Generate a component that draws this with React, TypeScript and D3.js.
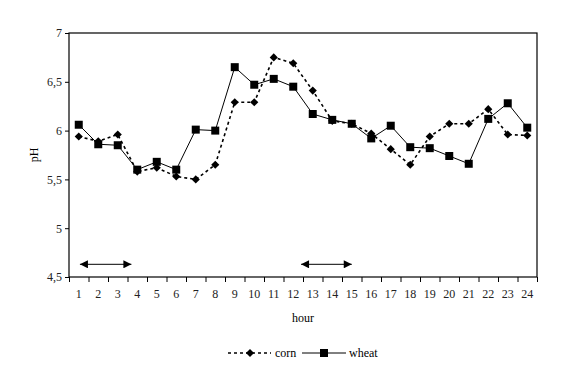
import React, { useEffect, useRef } from "react";
import * as d3 from "d3";

const hours = d3.range(1, 25).map(String);
const cornValues = [5.94, 5.89, 5.96, 5.58, 5.62, 5.53, 5.5, 5.65, 6.29, 6.29, 6.75, 6.69, 6.41, 6.1, 6.07, 5.97, 5.81, 5.65, 5.94, 6.07, 6.07, 6.22, 5.96, 5.95];
const wheatValues = [6.06, 5.86, 5.85, 5.6, 5.68, 5.6, 6.01, 6.0, 6.65, 6.47, 6.53, 6.45, 6.17, 6.11, 6.07, 5.92, 6.05, 5.83, 5.82, 5.74, 5.66, 6.12, 6.28, 6.03];
const yTicks = [4.5, 5, 5.5, 6, 6.5, 7];
const arrowSpans: [number, number][] = [[1.06, 3.7], [12.4, 15.0]];
const arrowLevel = 4.63;

const W = 561, H = 378;
const M = { left: 69, right: 24, top: 33, bottom: 101 };
const FONT = "Liberation Serif, Times New Roman, serif";

export default function App() {
  const ref = useRef<SVGSVGElement>(null);
  useEffect(() => {
    const svg = d3.select(ref.current);
    svg.selectAll("*").remove();
    const x0 = M.left, x1 = W - M.right, y0 = M.top, y1 = H - M.bottom;
    const x = d3.scaleBand().domain(hours).range([x0, x1]);
    const xc = (h: string) => (x(h) as number) + x.bandwidth() / 2;
    const xl = d3.scaleLinear().domain([0.5, 24.5]).range([x0, x1]);
    const y = d3.scaleLinear().domain([4.5, 7]).range([y1, y0]);

    const defs = svg.append("defs");
    ["s", "e"].forEach((k) => {
      defs.append("marker").attr("id", "arr" + k).attr("viewBox", "0 0 10 10")
        .attr("refX", 10).attr("refY", 5).attr("markerWidth", 9).attr("markerHeight", 8)
        .attr("markerUnits", "userSpaceOnUse")
        .attr("orient", "auto-start-reverse")
        .append("path").attr("d", "M0,0 L10,5 L0,10 Z").attr("fill", "#000");
    });

    // frame
    svg.append("rect").attr("x", x0).attr("y", y0).attr("width", x1 - x0).attr("height", y1 - y0)
      .attr("fill", "none").attr("stroke", "#000").attr("stroke-width", 1.2);

    // y axis
    const ya = svg.append("g").attr("transform", `translate(${x0},0)`)
      .call(d3.axisLeft(y).tickValues(yTicks).tickSize(4).tickPadding(3)
        .tickFormat((d) => d3.format("")(d as number).replace(".", ",")));
    ya.select(".domain").remove();
    ya.selectAll("text").style("font-family", FONT).attr("font-size", 12).attr("fill", "#222");

    // x axis
    const xa = svg.append("g").attr("transform", `translate(0,${y1})`)
      .call(d3.axisBottom(xl).tickValues(d3.range(0.5, 25.5, 1)).tickSize(5).tickFormat(() => ""));
    xa.select(".domain").remove();
    svg.append("g").selectAll("text").data(hours).join("text")
      .attr("x", (d) => xc(d)).attr("y", y1 + 21).attr("text-anchor", "middle")
      .style("font-family", FONT).attr("font-size", 12).attr("fill", "#222").text((d) => d);

    // labels
    svg.append("text").attr("transform", `translate(38,${(y0 + y1) / 2}) rotate(-90)`)
      .attr("text-anchor", "middle").style("font-family", FONT).attr("font-size", 12).text("pH");
    svg.append("text").attr("x", (x0 + x1) / 2).attr("y", 322).attr("text-anchor", "middle")
      .style("font-family", FONT).attr("font-size", 12).text("hour");

    // arrows
    svg.append("g").selectAll("line").data(arrowSpans).join("line")
      .attr("x1", (d) => xl(d[0])).attr("x2", (d) => xl(d[1]))
      .attr("y1", y(arrowLevel)).attr("y2", y(arrowLevel))
      .attr("stroke", "#000").attr("stroke-width", 1)
      .attr("marker-start", "url(#arrs)").attr("marker-end", "url(#arre)");

    const line = d3.line<number>().x((_, i) => xc(hours[i])).y((d) => y(d));
    const diamondType = (d3 as any).symbolDiamond2 ?? d3.symbolDiamond;
    const diamond = d3.symbol().type(diamondType).size(42);
    const square = d3.symbol().type(d3.symbolSquare).size(64);

    svg.append("path").attr("d", line(cornValues) as string).attr("fill", "none")
      .attr("stroke", "#000").attr("stroke-width", 1.6).attr("stroke-dasharray", "3,3");
    svg.append("path").attr("d", line(wheatValues) as string).attr("fill", "none")
      .attr("stroke", "#000").attr("stroke-width", 1);

    svg.append("g").selectAll("path").data(cornValues).join("path")
      .attr("transform", (d, i) => `translate(${xc(hours[i])},${y(d)})`)
      .attr("d", diamond() as string).attr("fill", "#000");
    svg.append("g").selectAll("path").data(wheatValues).join("path")
      .attr("transform", (d, i) => `translate(${xc(hours[i])},${y(d)})`)
      .attr("d", square() as string).attr("fill", "#000");

    // legend
    const ly = 353;
    const lg = svg.append("g");
    lg.append("line").attr("x1", 228).attr("x2", 271).attr("y1", ly).attr("y2", ly)
      .attr("stroke", "#000").attr("stroke-width", 1.6).attr("stroke-dasharray", "3,3");
    lg.append("path").attr("transform", `translate(250,${ly})`)
      .attr("d", diamond() as string).attr("fill", "#000");
    lg.append("text").attr("x", 275).attr("y", ly + 4).style("font-family", FONT).attr("font-size", 12).text("corn");
    lg.append("line").attr("x1", 302).attr("x2", 346).attr("y1", ly).attr("y2", ly)
      .attr("stroke", "#000").attr("stroke-width", 1);
    lg.append("path").attr("transform", `translate(324,${ly})`)
      .attr("d", square() as string).attr("fill", "#000");
    lg.append("text").attr("x", 349).attr("y", ly + 4).style("font-family", FONT).attr("font-size", 12).text("wheat");
  }, []);
  return (
    <svg ref={ref} width={W} height={H}
      style={{ position: "absolute", left: 0, top: 0, background: "#fff" }} />
  );
}
